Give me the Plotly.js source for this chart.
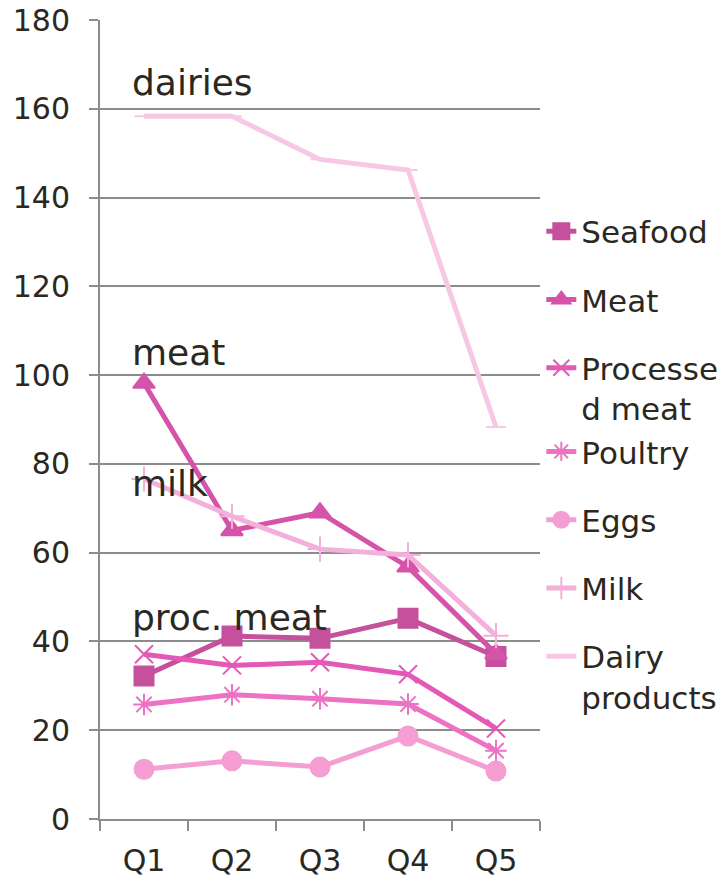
<!DOCTYPE html>
<html>
<head>
<meta charset="utf-8">
<script src="https://cdn.plot.ly/plotly-3.0.1.min.js"></script>
<style>
  html, body { margin: 0; padding: 0; background: #ffffff; }
  #chart { width: 725px; height: 878px; }
</style>
</head>
<body>
<div id="chart"></div>
<script>
// Quintile categories
const quintiles = ["Q1", "Q2", "Q3", "Q4", "Q5"];

// Values per food group across quintiles
const seafood        = [32.2, 41.2, 40.7, 45.2, 36.6];
const meat           = [98.2, 65.0, 69.0, 56.8, 37.2];
const processedMeat  = [37.1, 34.6, 35.3, 32.6, 20.4];
const poultry        = [25.8, 28.0, 27.1, 25.9, 15.4];
const eggs           = [11.2, 13.1, 11.7, 18.7, 10.8];
const milk           = [76.6, 68.2, 60.8, 59.5, 41.3];
const dairyProducts  = [158.3, 158.3, 148.6, 146.2, 88.3];

// Legend labels (wrapped the way the legend shows them)
const seriesNames = ["Seafood", "Meat", "Processe<br>d meat", "Poultry", "Eggs", "Milk", "Dairy<br>products"];

// Text labels placed inside the plot
const noteTexts = ["dairies", "meat", "milk", "proc. meat"];
const noteLevels = [166, 105, 75.5, 45.5];

const textColor = "#2b2822";
const gridColor = "#8c8c8c";
const fontFamily = "'DejaVu Sans', Verdana, sans-serif";

const series = [
  { y: seafood,       name: seriesNames[0], color: "#c5509c", symbol: "square",          size: 19, group: "g1" },
  { y: meat,          name: seriesNames[1], color: "#d554a9", symbol: "triangle-up",     size: 19, group: "g2" },
  { y: processedMeat, name: seriesNames[2], color: "#e459b6", symbol: "x-thin-open",     size: 18, group: "g3" },
  { y: poultry,       name: seriesNames[3], color: "#ed72c3", symbol: "asterisk-open",   size: 18, group: "g3" },
  { y: eggs,          name: seriesNames[4], color: "#f49ed4", symbol: "circle",          size: 19, group: "g4" },
  { y: milk,          name: seriesNames[5], color: "#f3b0da", symbol: "cross-thin-open", size: 18, group: "g5" },
  { y: dairyProducts, name: seriesNames[6], color: "#f7c8e5", symbol: "line-ew-open",    size: 14, group: "g6" }
];

const traces = series.map(s => ({
  type: "scatter",
  mode: "lines+markers",
  x: quintiles,
  y: s.y,
  name: s.name,
  legendgroup: s.group,
  line: { color: s.color, width: 5 },
  marker: {
    symbol: s.symbol,
    size: s.size,
    color: s.color,
    line: { color: s.color, width: 2 }
  }
}));

const annotations = noteTexts.map((t, i) => ({
  text: t,
  xref: "paper",
  yref: "y",
  x: 0.068,
  y: noteLevels[i],
  xanchor: "left",
  yanchor: "middle",
  showarrow: false,
  font: { family: fontFamily, size: 36, color: textColor }
}));

const layout = {
  width: 725,
  height: 878,
  margin: { l: 100, r: 185, t: 20, b: 59, autoexpand: false },
  paper_bgcolor: "#ffffff",
  plot_bgcolor: "#ffffff",
  font: { family: fontFamily, color: textColor },
  showlegend: true,
  legend: {
    x: 1.003,
    xanchor: "left",
    y: 0.769,
    yanchor: "top",
    traceorder: "grouped",
    tracegroupgap: 25,
    valign: "top",
    groupclick: "toggleitem",
    bgcolor: "rgba(0,0,0,0)",
    font: { family: fontFamily, size: 31, color: textColor }
  },
  xaxis: {
    type: "category",
    range: [-0.5, 4.5],
    showgrid: false,
    zeroline: false,
    showline: true,
    linecolor: gridColor,
    linewidth: 2,
    ticks: "outside",
    tickson: "boundaries",
    ticklen: 10,
    tickwidth: 2,
    tickcolor: gridColor,
    ticklabelstandoff: 14,
    tickfont: { family: fontFamily, size: 30, color: textColor }
  },
  yaxis: {
    range: [0, 180],
    dtick: 20,
    showgrid: true,
    gridcolor: gridColor,
    gridwidth: 2,
    zeroline: false,
    showline: true,
    linecolor: gridColor,
    linewidth: 2,
    ticks: "outside",
    ticklen: 9,
    tickwidth: 2,
    tickcolor: gridColor,
    ticklabelstandoff: 13,
    tickfont: { family: fontFamily, size: 30, color: textColor }
  },
  annotations: annotations
};

Plotly.newPlot("chart", traces, layout, { displayModeBar: false, staticPlot: true });
</script>
</body>
</html>
